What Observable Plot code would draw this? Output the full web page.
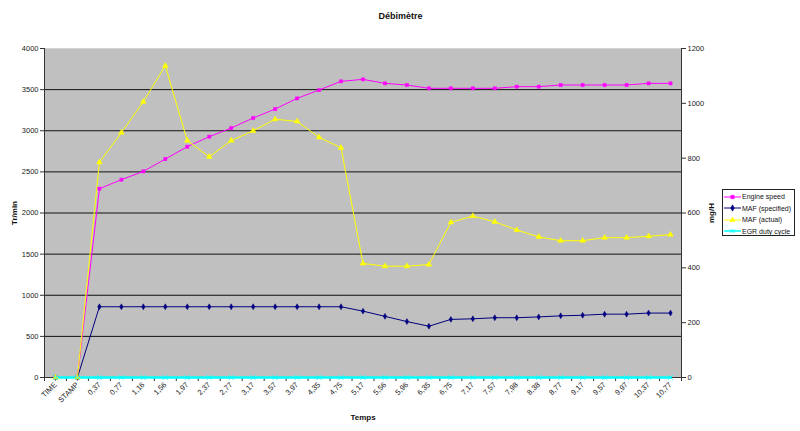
<!DOCTYPE html>
<html>
<head>
<meta charset="utf-8">
<script src="https://cdn.jsdelivr.net/npm/d3@7"></script>
<script src="https://cdn.jsdelivr.net/npm/@observablehq/plot@0.6"></script>
<style>
  html, body { margin: 0; padding: 0; background: #fff; }
  #wrap { position: relative; width: 800px; height: 431px; overflow: hidden; font-family: "Liberation Sans", Arial, sans-serif; }
  #title { position: absolute; left: 0; width: 801px; top: 11px; text-align: center; font-weight: bold; font-size: 9px; color: #111; }
  #legend { position: absolute; left: 722px; top: 189px; width: 73px; height: 47px; border: 1px solid #222; background: #fff; box-sizing: border-box; padding-top: 1px; overflow: hidden; }
  #legend .row { height: 11.5px; display: flex; align-items: center; font-size: 7px; color: #111; white-space: nowrap; }
  #legend svg { margin-left: 1px; margin-right: 1px; flex: none; }
  #chart g[aria-label$="axis label"] { font-weight: bold; font-size: 8px; fill: #111; }
</style>
</head>
<body>
<div id="wrap">
  <div id="chart"></div>
  <div id="title">Débimètre</div>
  <div id="legend"></div>
</div>
<script>
// Categories (x axis tick labels)
const categories = ["TIME","STAMP","0,37","0,77","1,16","1,56","1,97","2,37","2,77","3,17","3,57","3,97","4,35","4,75","5,17","5,56","5,96","6,35","6,75","7,17","7,57","7,98","8,38","8,77","9,17","9,57","9,97","10,37","10,77"];

// Left axis series (Tr/min)
const engineSpeed = [0,0,2295,2405,2506,2656,2806,2928,3033,3155,3264,3394,3495,3601,3625,3576,3556,3516,3516,3516,3516,3536,3536,3556,3556,3556,3556,3576,3576];

// Right axis series (mg/H)
const mafSpecified = [0,0,258,258,258,258,258,258,258,258,258,258,258,258,242,223,204,187,212,214,218,218,221,225,227,231,231,235,235];
const mafActual = [0,0,785,893,1006,1137,864,805,864,900,942,934,876,838,416,406,406,412,566,589,568,538,513,499,499,510,510,515,521];
const egrDutyCycle = [0,0,0,0,0,0,0,0,0,0,0,0,0,0,0,0,0,0,0,0,0,0,0,0,0,0,0,0,0];

// Axis ticks
const leftTicks = [0,500,1000,1500,2000,2500,3000,3500,4000];
const rightTicks = [0,200,400,600,800,1000,1200];
const leftMax = 4000, rightMax = 1200;
const k = leftMax / rightMax;

const seriesDefs = [
  {name: "Engine speed", values: engineSpeed, axis: "left", color: "#ff00ff", symbol: "square", r: 1.8, sw: 1},
  {name: "MAF (specified)", values: mafSpecified, axis: "right", color: "#000080", symbol: "diamond", r: 1.8, sw: 1},
  {name: "MAF (actual)", values: mafActual, axis: "right", color: "#ffff00", symbol: "triangle", r: 2.1, sw: 1},
  {name: "EGR duty cycle", values: egrDutyCycle, axis: "right", color: "#00ffff", symbol: "times", r: 2.2, sw: 2.5}
];

const rows = [];
for (const s of seriesDefs) {
  s.values.forEach((v, i) => rows.push({series: s.name, i: i + 0.5, value: v, y: s.axis === "left" ? v : v * k}));
}

const boundaries = d3.range(0, categories.length + 1);
const centers = categories.map((c, i) => i + 0.5);

const marks = [
  Plot.frame({fill: "#c0c0c0", stroke: "#d4d4d4"}),
  Plot.gridY({ticks: [500,1000,1500,2000,2500,3000,3500], stroke: "#111", strokeOpacity: 1, strokeWidth: 1}),
  Plot.ruleX([0, categories.length], {stroke: "#333", strokeWidth: 1}),
  Plot.ruleY([0], {stroke: "#333", strokeWidth: 1}),
  Plot.axisY({ticks: leftTicks, tickFormat: d3.format("d"), tickSize: 4, tickPadding: 2, stroke: "#333", label: "Tr/min", labelAnchor: "center", labelArrow: "none", labelOffset: 33}),
  Plot.axisY({anchor: "right", ticks: rightTicks.map(v => v * k), tickFormat: d => String(Math.round(d / k)), tickSize: 4, tickPadding: 2, stroke: "#333", label: "mg/H", labelAnchor: "center", labelArrow: "none", labelOffset: 32}),
  Plot.axisX({ticks: boundaries, tickSize: 4, tickFormat: () => "", stroke: "#333", label: null}),
  Plot.axisX({ticks: centers, tickSize: 0, tickPadding: 6, tickRotate: -45, tickFormat: d => categories[Math.floor(d)], label: "Temps", labelAnchor: "center", labelArrow: "none", labelOffset: 42})
];
for (const s of seriesDefs) {
  const data = rows.filter(r => r.series === s.name);
  marks.push(Plot.line(data, {x: "i", y: "y", stroke: s.color, strokeWidth: s.sw}));
}
for (const s of seriesDefs) {
  const data = rows.filter(r => r.series === s.name);
  if (s.symbol === "times") {
    marks.push(Plot.dot(data, {x: "i", y: "y", symbol: "times", r: s.r, stroke: s.color, strokeWidth: 1}));
  } else {
    marks.push(Plot.dot(data, {x: "i", y: "y", symbol: s.symbol, r: s.r, fill: s.color, stroke: s.color, strokeWidth: 0.5}));
  }
}

const chart = Plot.plot({
  width: 800,
  height: 431,
  marginLeft: 44,
  marginRight: 119,
  marginTop: 48,
  marginBottom: 54,
  style: {fontFamily: "'Liberation Sans', Arial, sans-serif", fontSize: "7.5px", color: "#222", background: "transparent", overflow: "visible"},
  x: {type: "linear", domain: [0, categories.length]},
  y: {type: "linear", domain: [0, leftMax]},
  marks
});
document.getElementById("chart").appendChild(chart);

// Legend
const legend = d3.select("#legend");
for (const s of seriesDefs) {
  const row = legend.append("div").attr("class", "row");
  const sv = row.append("svg").attr("width", 17).attr("height", 8);
  sv.append("line").attr("x1", 0).attr("x2", 17).attr("y1", 4).attr("y2", 4).attr("stroke", s.color).attr("stroke-width", s.symbol === "times" ? 1.5 : 1);
  const sym = d3.symbol().type({square: d3.symbolSquare, diamond: d3.symbolDiamond, triangle: d3.symbolTriangle, times: d3.symbolTimes}[s.symbol]).size(12);
  const p = sv.append("path").attr("d", sym()).attr("transform", "translate(8.5,4)");
  if (s.symbol === "times") p.attr("fill", "none").attr("stroke", s.color);
  else p.attr("fill", s.color).attr("stroke", s.color).attr("stroke-width", 0.5);
  row.append("span").text(s.name);
}
</script>
</body>
</html>
